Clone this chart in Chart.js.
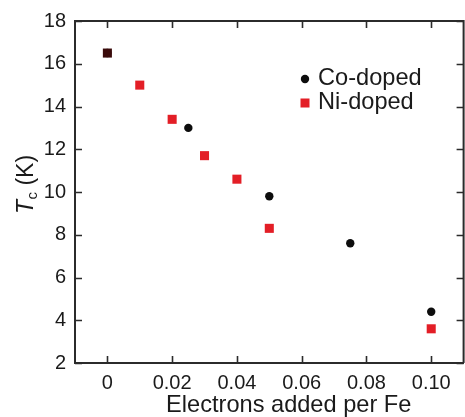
<!DOCTYPE html>
<html>
<head>
<meta charset="utf-8">
<script src="https://cdn.jsdelivr.net/npm/chart.js@4"></script>
<style>
  html, body { margin: 0; padding: 0; background: #fff; overflow: hidden; }
  #wrap { position: absolute; left: 0; top: 0; width: 470px; height: 417px; }
</style>
</head>
<body>
<div id="wrap"><canvas id="tc" width="470" height="417"></canvas></div>
<script>
// Tc vs electrons added per Fe
var coX = [0, 0.025, 0.05, 0.075, 0.1];
var coTc = [16.5, 13.0, 9.8, 7.6, 4.4];
var niX = [0, 0.01, 0.02, 0.03, 0.04, 0.05, 0.1];
var niTc = [16.5, 15.0, 13.4, 11.7, 10.6, 8.3, 3.6];

var xTicks = [0, 0.02, 0.04, 0.06, 0.08, 0.10];
var yTicks = [2, 4, 6, 8, 10, 12, 14, 16, 18];
var seriesNames = ['Co-doped', 'Ni-doped'];

var FONT = '"Liberation Sans", Arial, sans-serif';
var INK = '#1a1a1a';
var AXIS = '#2b2b2b';
var RED = '#e31e26';

function pairs(xs, ys) {
    return xs.map(function(x, i) { return { x: x, y: ys[i] }; });
}

// inward ticks on all four sides + top/right frame, axis titles, legend
var frame = {
    id: 'frame',
    afterDraw: function(chart) {
        var ctx = chart.ctx;
        var a = chart.chartArea;
        var sx = chart.scales.x, sy = chart.scales.y;
        var len = 7;
        ctx.save();
        ctx.strokeStyle = AXIS;
        ctx.lineWidth = 2;
        ctx.beginPath();
        ctx.moveTo(a.left - 1, a.top);
        ctx.lineTo(a.right, a.top);
        ctx.lineTo(a.right, a.bottom);
        ctx.stroke();

        ctx.lineWidth = 1.6;
        ctx.beginPath();
        xTicks.forEach(function(v) {
            var px = Math.round(sx.getPixelForValue(v)) + 0.5;
            ctx.moveTo(px, a.bottom); ctx.lineTo(px, a.bottom - len);
            ctx.moveTo(px, a.top); ctx.lineTo(px, a.top + len);
        });
        yTicks.forEach(function(v) {
            var py = Math.round(sy.getPixelForValue(v)) + 0.5;
            ctx.moveTo(a.left, py); ctx.lineTo(a.left + len, py);
            ctx.moveTo(a.right, py); ctx.lineTo(a.right - len, py);
        });
        ctx.stroke();

        // x title
        ctx.fillStyle = INK;
        ctx.font = '23.6px ' + FONT;
        ctx.textAlign = 'center';
        ctx.textBaseline = 'alphabetic';
        ctx.fillText('Electrons added per Fe', a.left + (a.right - a.left) * 0.55, 412);

        // y title: T_c (K), rotated
        ctx.save();
        ctx.translate(33, 214);
        ctx.rotate(-Math.PI / 2);
        ctx.textAlign = 'left';
        ctx.font = 'italic 23px ' + FONT;
        ctx.fillText('T', 0, 0);
        var w = ctx.measureText('T').width;
        ctx.font = '15px ' + FONT;
        ctx.fillText('c', w + 0.5, 4);
        w += ctx.measureText('c').width + 0.5;
        ctx.font = '23px ' + FONT;
        ctx.fillText(' (K)', w, 0);
        ctx.restore();

        // legend
        var lx = a.left + 230, rowY = [79, 103];
        chart.data.datasets.forEach(function(ds, i) {
            var cy = rowY[i];
            ctx.fillStyle = ds.legendColor;
            if (ds.pointStyle === 'rect') {
                ctx.fillRect(lx - 4.5, cy - 4.5, 9, 9);
            } else {
                ctx.beginPath();
                ctx.arc(lx, cy, 4.2, 0, Math.PI * 2);
                ctx.fill();
            }
            ctx.fillStyle = INK;
            ctx.font = '23.6px ' + FONT;
            ctx.textAlign = 'left';
            ctx.fillText(ds.label, lx + 13, cy + 6);
        });
        ctx.restore();
    }
};

new Chart(document.getElementById('tc'), {
    type: 'scatter',
    data: {
        datasets: [{
            label: seriesNames[0],
            data: pairs(coX, coTc),
            pointStyle: 'circle',
            pointRadius: 4.2,
            pointHoverRadius: 4.2,
            backgroundColor: '#0d0d0d',
            borderWidth: 0,
            legendColor: '#0d0d0d',
            order: 1
        }, {
            label: seriesNames[1],
            data: pairs(niX, niTc),
            pointStyle: 'rect',
            pointRadius: 6.4,
            pointHoverRadius: 6.4,
            // first point overlaps the Co point and prints dark
            backgroundColor: niX.map(function(x) { return x === 0 ? '#3a0a0a' : RED; }),
            borderWidth: 0,
            legendColor: RED,
            order: 0
        }]
    },
    options: {
        responsive: false,
        devicePixelRatio: 1,
        animation: false,
        clip: false,
        layout: { padding: { top: 20, right: 2.5, left: 0, bottom: 0 } },
        plugins: {
            legend: { display: false },
            tooltip: { enabled: false }
        },
        scales: {
            x: {
                type: 'linear',
                min: -0.01,
                max: 0.11,
                afterBuildTicks: function(s) { s.ticks = xTicks.map(function(v) { return { value: v }; }); },
                afterFit: function(s) { s.height = 54; },
                grid: { display: false, drawTicks: false },
                border: { display: true, color: AXIS, width: 2 },
                ticks: {
                    padding: 8,
                    color: INK,
                    font: { family: FONT, size: 20 },
                    maxRotation: 0,
                    callback: function(v) { return v === 0 ? '0' : v.toFixed(2); }
                }
            },
            y: {
                type: 'linear',
                min: 2,
                max: 18,
                afterBuildTicks: function(s) { s.ticks = yTicks.map(function(v) { return { value: v }; }); },
                afterFit: function(s) { s.width = 75; },
                grid: { display: false, drawTicks: false },
                border: { display: true, color: AXIS, width: 2 },
                ticks: {
                    padding: 9,
                    color: INK,
                    font: { family: FONT, size: 20 }
                }
            }
        }
    },
    plugins: [frame]
});
</script>
</body>
</html>
